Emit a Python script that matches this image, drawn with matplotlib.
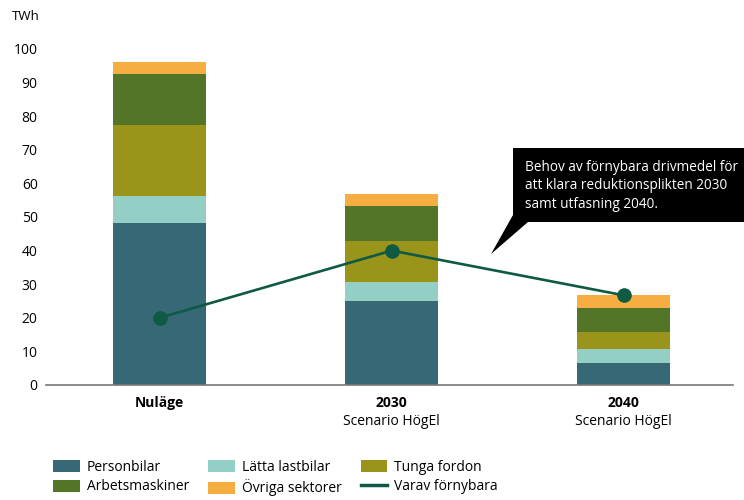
import matplotlib.pyplot as plt
from matplotlib.patches import Rectangle, Polygon
from matplotlib.lines import Line2D
import numpy as np

plt.rcParams['font.family'] = ['Open Sans', 'DejaVu Sans']

# Data (TWh)
years = ["Nuläge", "2030", "2040"]
subtitles = ["", "Scenario HögEl", "Scenario HögEl"]
personbilar = [48.1, 24.9, 6.5]
latta_lastbilar = [8.2, 5.7, 4.2]
tunga_fordon = [21.1, 12.3, 5.1]
arbetsmaskiner = [15.3, 10.5, 7.0]
ovriga_sektorer = [3.5, 3.4, 3.9]
varav_fornybara = [20, 40, 26.7]

series = [
    ("Personbilar", personbilar, "#376876"),
    ("Lätta lastbilar", latta_lastbilar, "#93cfc5"),
    ("Tunga fordon", tunga_fordon, "#9a941b"),
    ("Arbetsmaskiner", arbetsmaskiner, "#527527"),
    ("Övriga sektorer", ovriga_sektorer, "#f6ae42"),
]
line_color = "#0f5a45"

fig = plt.figure(figsize=(7.44, 5), dpi=100)
ax = fig.add_axes([0.0618, 0.23, 0.9232, 0.672])

x = np.arange(len(years))
bottom = np.zeros(len(years))
handles = {}
for name, vals, col in series:
    b = ax.bar(x, vals, 0.4, bottom=bottom, color=col, label=name, zorder=2)
    handles[name] = b
    bottom += np.array(vals)

ln, = ax.plot(x, varav_fornybara, color=line_color, lw=1.9, marker="o",
              markersize=9.5, zorder=3, label="Varav förnybara")

ax.set_xlim(-0.49, 2.47)
ax.set_ylim(0, 100)
ax.set_yticks(range(0, 101, 10))
ax.tick_params(axis="y", length=0, labelsize=10, pad=6)
ax.tick_params(axis="x", length=0, pad=8)
ax.set_xticks(x)
ax.set_xticklabels(years, fontweight="bold", fontsize=10)
for i, s in enumerate(subtitles):
    ax.text(i, -0.085, s, transform=ax.get_xaxis_transform(), ha="center",
            va="top", fontsize=10)
for s in ["top", "right", "left"]:
    ax.spines[s].set_visible(False)
ax.spines["bottom"].set_color("#777777")
ax.spines["bottom"].set_linewidth(1.2)

fig.text(0.016, 0.966, "TWh", fontsize=9.5, va="center")

# callout box
fig.patches.append(Rectangle((0.6895, 0.556), 0.3105, 0.148, transform=fig.transFigure,
                             facecolor="black", edgecolor="none"))
fig.patches.append(Polygon([(0.6895, 0.57), (0.6895, 0.556), (0.7097, 0.556), (0.66, 0.492)],
                           closed=True, transform=fig.transFigure,
                           facecolor="black", edgecolor="none"))
fig.text(0.7056, 0.68, "Behov av förnybara drivmedel för\natt klara reduktionsplikten 2030\nsamt utfasning 2040.",
         color="white", fontsize=9.8, va="top", ha="left", linespacing=1.3)

order = ["Personbilar", "Arbetsmaskiner", "Lätta lastbilar", "Övriga sektorer", "Tunga fordon"]
hs = [handles[n] for n in order] + [Line2D([], [], color=line_color, lw=2.5)]
ls = order + ["Varav förnybara"]
fig.legend(hs, ls, ncol=3, loc="lower left", bbox_to_anchor=(0.055, -0.018), frameon=False,
           fontsize=10, handlelength=1.9, handleheight=1.0, columnspacing=1.4,
           labelspacing=0.35, handletextpad=0.5)

plt.savefig("out.png", dpi=100)
